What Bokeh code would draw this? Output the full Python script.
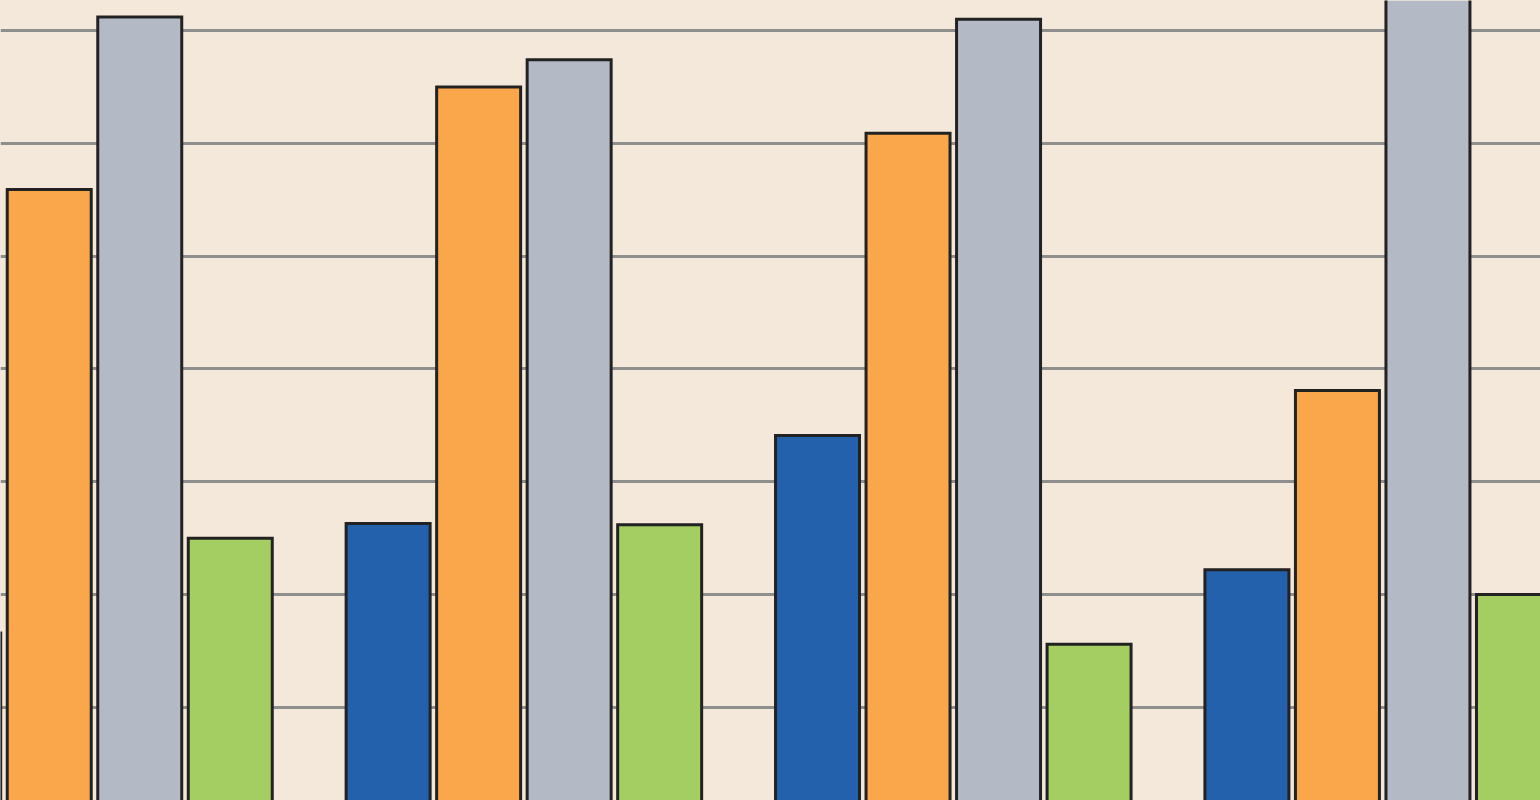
from bokeh.plotting import figure
from bokeh.models import Range1d, FixedTicker, ColumnDataSource
from bokeh.embed import file_html
from bokeh.resources import INLINE

# Data (gridline step = 10 units)
groups = [0, 1, 2, 3]
series_names = ["blue", "orange", "gray", "green"]
blue_vals = [16.6, 26.3, 34.1, 22.2]
orange_vals = [55.9, 65.0, 60.9, 38.1]
gray_vals = [71.2, 67.4, 71.0, 78.0]
green_vals = [25.0, 26.2, 15.6, 20.0]
grid_ticks = [10, 20, 30, 40, 50, 60, 70]

colors = ["#2361AD", "#FAA64A", "#B4BAC5", "#A4CE62"]
bg = "#F4E8DA"

p = figure(width=1540, height=800, output_backend="svg", toolbar_location=None,
           x_range=Range1d(-0.2189, 3.3675), y_range=Range1d(1.75, 72.66),
           min_border=0, min_border_left=0, min_border_right=0,
           min_border_top=0, min_border_bottom=0)
p.background_fill_color = bg
p.border_fill_color = bg
p.outline_line_color = None
p.xaxis.visible = False
p.yaxis.visible = False
p.xgrid.visible = False
p.ygrid.ticker = FixedTicker(ticks=grid_ticks)
p.ygrid.grid_line_color = "#8E8E8E"
p.ygrid.grid_line_width = 3

pitch = 0.2108
bar_w = 0.1956
offsets = [-1.5, -0.5, 0.5, 1.5]
all_vals = [blue_vals, orange_vals, gray_vals, green_vals]
for name, vals, off, col in zip(series_names, all_vals, offsets, colors):
    xs_c = [g + off * pitch for g in groups]
    src = ColumnDataSource(dict(x=xs_c, top=vals))
    p.vbar(x="x", top="top", bottom=0, width=bar_w, source=src,
           fill_color=col, line_color=None)
    # outline drawn as polygons so that a bar running past the top is not closed at the edge
    outline = ColumnDataSource(dict(
        xs=[[c - bar_w / 2, c - bar_w / 2, c + bar_w / 2, c + bar_w / 2] for c in xs_c],
        ys=[[0, v, v, 0] for v in vals]))
    p.patches(xs="xs", ys="ys", source=outline, fill_color=None,
              line_color="#222222", line_width=3, line_join="miter")

html = file_html(p, INLINE)
html = html.replace("<head>", "<head><style>html,body{margin:0;padding:0;overflow:hidden;background:%s}</style>" % bg, 1)
open("out.html", "w").write(html)
